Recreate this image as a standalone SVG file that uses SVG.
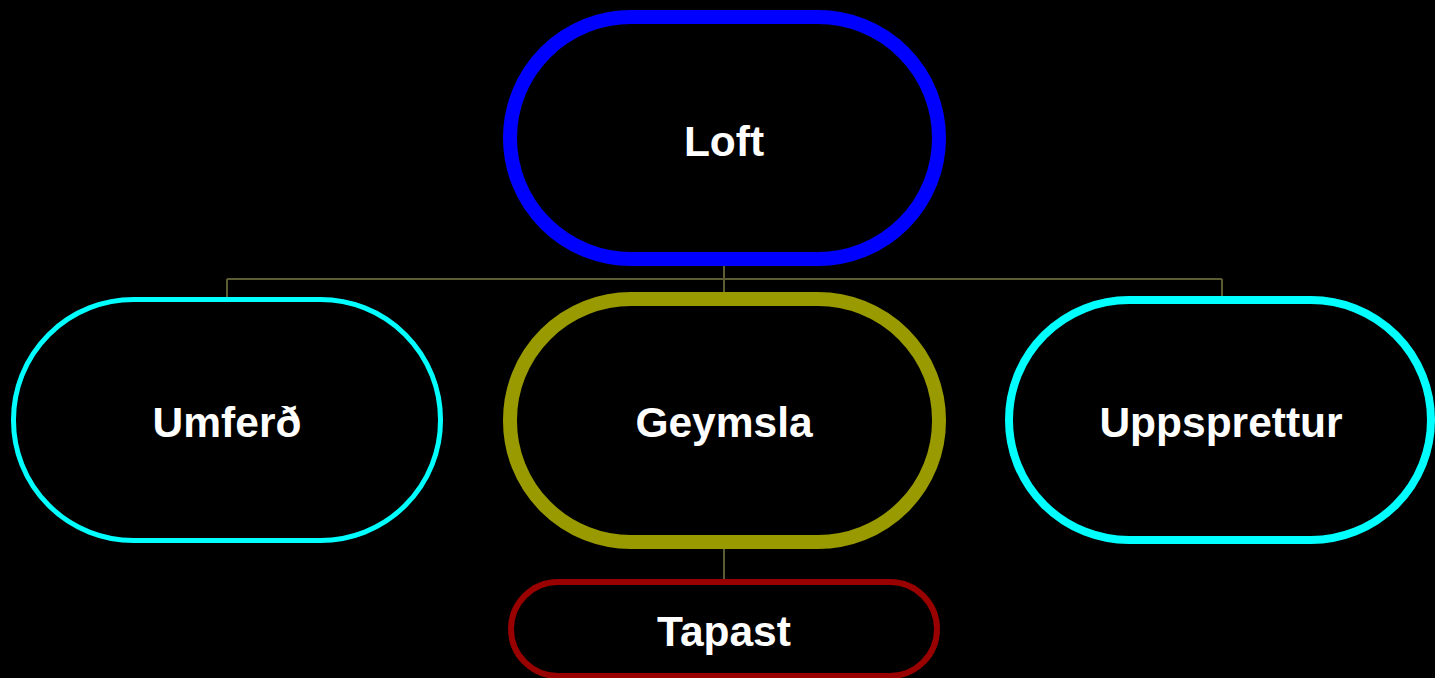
<svg xmlns="http://www.w3.org/2000/svg" width="1435" height="678" viewBox="0 0 1435 678">
<style>
.t{font-family:"Liberation Sans",Arial,sans-serif;font-weight:bold;font-size:42.5px;fill:#fff;text-anchor:middle}
.c{stroke:#5c5c32;stroke-width:2;fill:none}
</style>
<rect width="1435" height="678" fill="#000"/>
<g id="connectors">
<path class="c" d="M724 266V292M227 279H1222M227 279V298M1222 279V298M724 549V580"/>
</g>
<g id="loft">
<rect x="510" y="17" width="429" height="242" rx="121" fill="#000" stroke="#0000ff" stroke-width="14"/>
<text class="t" x="724" y="156">Loft</text>
</g>
<g id="umferd">
<rect x="13.5" y="299.5" width="427" height="241" rx="120" fill="#000" stroke="#00ffff" stroke-width="5"/>
<text class="t" x="227" y="437">Umferð</text>
</g>
<g id="geymsla">
<rect x="510" y="299" width="429" height="243" rx="121" fill="#000" stroke="#999900" stroke-width="14"/>
<text class="t" x="724" y="437">Geymsla</text>
</g>
<g id="uppsprettur">
<rect x="1009" y="300" width="422" height="240" rx="120" fill="#000" stroke="#00ffff" stroke-width="8"/>
<text class="t" x="1221" y="437">Uppsprettur</text>
</g>
<g id="tapast">
<rect x="511" y="582" width="426" height="94" rx="47" fill="#000" stroke="#990000" stroke-width="6"/>
<text class="t" x="724" y="646">Tapast</text>
</g>
</svg>
